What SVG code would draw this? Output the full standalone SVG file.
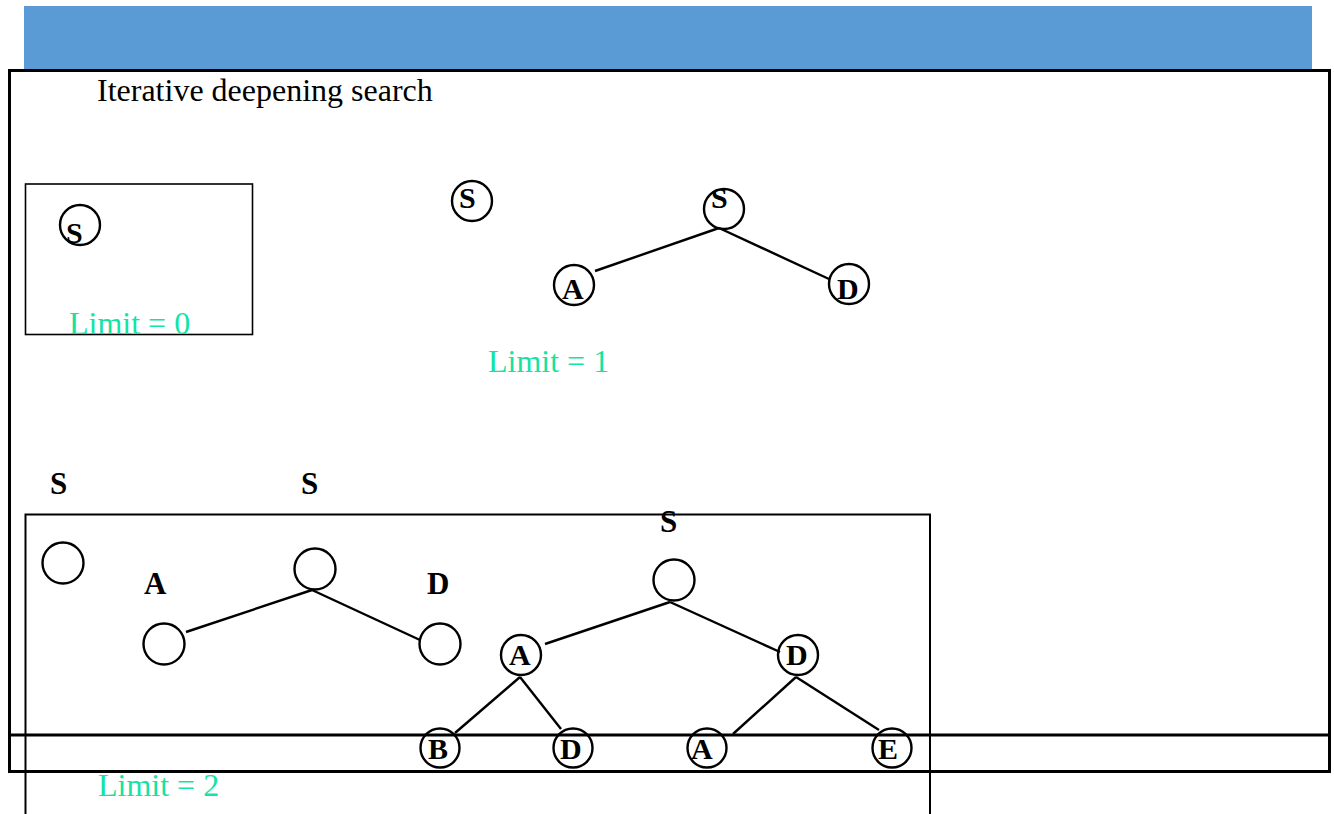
<svg xmlns="http://www.w3.org/2000/svg" width="1334" height="814" viewBox="0 0 1334 814">
<style>
.n{fill:none;stroke:#000;stroke-width:2.4}
.e{stroke:#000;stroke-width:2.4;fill:none}
.l{font-family:"Liberation Serif","Times New Roman",serif;font-weight:bold;font-size:31px;fill:#000}
.k{font-family:"Liberation Serif","Times New Roman",serif;font-weight:bold;font-size:30px;fill:#000}
.g{font-family:"Liberation Serif","Times New Roman",serif;font-size:32px;fill:#14e3a2}
.t{font-family:"Liberation Serif","Times New Roman",serif;font-size:32px;fill:#000}
</style>
<rect x="24" y="6" width="1288" height="63" fill="#5b9bd5"/>
<rect x="9.5" y="70.5" width="1320" height="701" fill="#fff" stroke="#000" stroke-width="3"/>
<line x1="8" y1="735" x2="1330" y2="735" stroke="#000" stroke-width="3"/>
<text class="t" x="97" y="101">Iterative deepening search</text>

<g id="limit0">
<rect x="25.5" y="184" width="227" height="150.5" fill="none" stroke="#000" stroke-width="1.6"/>
<g id="l0-S"><circle class="n" cx="80" cy="225" r="20"/><text class="k" x="66" y="243">S</text></g>
<text class="g" x="69" y="334">Limit = 0</text>
</g>

<g id="limit1">
<g id="l1-S0"><circle class="n" cx="472" cy="201" r="20"/><text class="k" x="459" y="208">S</text></g>
<g id="l1-S"><circle class="n" cx="724" cy="209" r="20"/><text class="k" x="711" y="208">S</text></g>
<g id="l1-A"><circle class="n" cx="574" cy="285" r="20"/><text class="k" x="562" y="299">A</text></g>
<g id="l1-D"><circle class="n" cx="849" cy="284" r="20"/><text class="k" x="837" y="299">D</text></g>
<text class="g" x="488" y="372">Limit = 1</text>
</g>

<g id="limit2">
<path d="M25.5 814 V514.5 H930 V814" fill="none" stroke="#000" stroke-width="2"/>
<text class="l" x="50" y="494">S</text>
<text class="l" x="301" y="494">S</text>
<g id="l2-S0"><circle class="n" cx="63" cy="563" r="20.5"/></g>
<text class="l" x="144" y="594">A</text>
<text class="l" x="427" y="594">D</text>
<g id="l2-S1"><circle class="n" cx="315" cy="569" r="20.5"/></g>
<g id="l2-A1"><circle class="n" cx="164" cy="644" r="20.5"/></g>
<g id="l2-D1"><circle class="n" cx="440" cy="644" r="20.5"/></g>
<text class="l" x="660" y="532">S</text>
<g id="l2-S"><circle class="n" cx="674" cy="580" r="20.5"/></g>
<g id="l2-A"><circle class="n" cx="521" cy="655" r="20"/><text class="k" x="509" y="665">A</text></g>
<g id="l2-D"><circle class="n" cx="798" cy="655" r="20"/><text class="k" x="786" y="665">D</text></g>
<g id="l2-B"><circle class="n" cx="440" cy="748" r="19.5"/><text class="k" x="428" y="759">B</text></g>
<g id="l2-D2"><circle class="n" cx="573" cy="748" r="19.5"/><text class="k" x="560" y="759">D</text></g>
<g id="l2-A2"><circle class="n" cx="707" cy="748" r="19.5"/><text class="k" x="691" y="759">A</text></g>
<g id="l2-E"><circle class="n" cx="892" cy="748" r="19.5"/><text class="k" x="878" y="759">E</text></g>
<text class="g" x="98" y="796">Limit = 2</text>
</g>

<g id="connectors">
<line class="e" x1="719" y1="228" x2="595" y2="271"/>
<line class="e" x1="719" y1="228" x2="829" y2="279"/>
<line class="e" x1="312" y1="590" x2="186" y2="632"/>
<line class="e" x1="312" y1="590" x2="420" y2="640"/>
<line class="e" x1="670" y1="602" x2="545" y2="644"/>
<line class="e" x1="670" y1="602" x2="780" y2="652"/>
<line class="e" x1="520" y1="677" x2="455" y2="733"/>
<line class="e" x1="520" y1="677" x2="561" y2="729"/>
<line class="e" x1="796" y1="677" x2="733" y2="734"/>
<line class="e" x1="796" y1="677" x2="879" y2="730"/>
</g>
</svg>
